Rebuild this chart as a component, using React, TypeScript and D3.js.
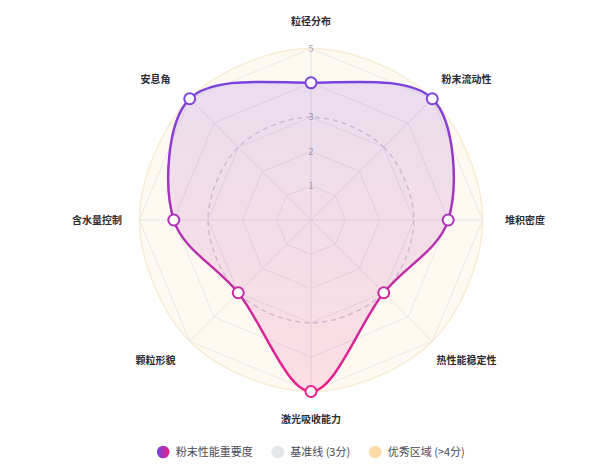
import React, { useMemo } from "react";
import * as d3 from "d3";

const axes = ["粒径分布", "粉末流动性", "堆积密度", "热性能稳定性", "激光吸收能力", "颗粒形貌", "含水量控制", "安息角"];
const importance = [4, 5, 4, 3, 5, 3, 4, 5];
const baseline = [3, 3, 3, 3, 3, 3, 3, 3];
const excellent = [5, 5, 5, 5, 5, 5, 5, 5];
const levels = [1, 2, 3, 4, 5];
const tickLabels = ["1", "2", "3", "4", "5"];
const legendItems = ["粉末性能重要度", "基准线 (3分)", "优秀区域 (>4分)"];

const width = 600;
const height = 474;
const cx = 311;
const cy = 220;
const radius = 171.5;
const font = "'Noto Sans CJK SC', 'Noto Sans', sans-serif";

export default function App() {
  const r = useMemo(() => d3.scaleLinear().domain([0, 5]).range([0, radius]), []);
  const angle = (i: number) => (i * 2 * Math.PI) / axes.length;

  const radial = (curve: any) =>
    d3
      .lineRadial<number>()
      .angle((_, i) => angle(i))
      .radius((d) => r(d))
      .curve(curve);

  const gridPath = radial(d3.curveLinearClosed);
  const smoothPath = radial(d3.curveCatmullRomClosed.alpha(0.5));

  // legend layout from measured text widths
  const legendLayout = useMemo(() => {
    const ctx = document.createElement("canvas").getContext("2d");
    if (ctx) ctx.font = `11px ${font}`;
    const widths = legendItems.map((t) => (ctx ? ctx.measureText(t).width : t.length * 11));
    const gap = 25;
    const total = widths.reduce((s, w) => s + 12.5 + w + gap, 0) - gap + 6;
    let x = cx - total / 2 + 6;
    return widths.map((w) => {
      const item = { x };
      x += 12.5 + w + gap;
      return item;
    });
  }, []);

  const legendFill = ["url(#legendGrad)", "#e5e6ea", "#fbdca8"];

  return (
    <svg width={width} height={height} style={{ position: "absolute", top: 0, left: 0, fontFamily: font }}>
      <defs>
        <linearGradient id="strokeGrad" gradientUnits="userSpaceOnUse" x1={0} y1={-radius} x2={0} y2={radius}>
          <stop offset="0%" stopColor="#6c47e6" />
          <stop offset="100%" stopColor="#ec1f88" />
        </linearGradient>
        <linearGradient id="fillGrad" gradientUnits="userSpaceOnUse" x1={0} y1={-radius} x2={0} y2={radius}>
          <stop offset="0%" stopColor="#7a55e0" stopOpacity={0.17} />
          <stop offset="100%" stopColor="#f03c90" stopOpacity={0.15} />
        </linearGradient>
        <linearGradient id="legendGrad" x1="0" y1="0" x2="1" y2="0">
          <stop offset="0%" stopColor="#6c47e6" />
          <stop offset="100%" stopColor="#ec1f88" />
        </linearGradient>
      </defs>
      <rect width={width} height={height} fill="#fff" />
      <g transform={`translate(${cx},${cy})`}>
        {/* excellent zone */}
        <path d={smoothPath(excellent) || ""} fill="#fefaf2" stroke="#f8ecd4" strokeWidth={1.5} />
        {/* grid */}
        {levels.map((l) => (
          <path key={l} d={gridPath(axes.map(() => l)) || ""} fill="none" stroke="#ebe8e6" strokeWidth={1} />
        ))}
        {axes.map((a, i) => (
          <line
            key={a}
            x1={0}
            y1={0}
            x2={Math.sin(angle(i)) * r(5)}
            y2={-Math.cos(angle(i)) * r(5)}
            stroke="#e6e3e3"
            strokeWidth={1}
          />
        ))}
        {/* baseline */}
        <path d={smoothPath(baseline) || ""} fill="none" stroke="#d3cfd6" strokeWidth={1.5} strokeDasharray="5,4" />
        {/* ticks */}
        {levels.map((l, i) => (
          <text key={l} x={0} y={-r(l)} dy="0.35em" textAnchor="middle" fontSize={9} fill="#a09aa8">
            {tickLabels[i]}
          </text>
        ))}
        {/* series */}
        <path d={smoothPath(importance) || ""} fill="url(#fillGrad)" stroke="url(#strokeGrad)" strokeWidth={2.5} />
        {importance.map((v, i) => (
          <circle
            key={i}
            cx={Math.sin(angle(i)) * r(v)}
            cy={-Math.cos(angle(i)) * r(v)}
            r={5.5}
            fill="#fff"
            stroke="url(#strokeGrad)"
            strokeWidth={2}
          />
        ))}
        {/* axis labels */}
        {axes.map((a, i) => {
          const s = Math.sin(angle(i));
          const c = Math.cos(angle(i));
          const shift = Math.abs(s) < 0.01 ? 0 : Math.sign(s) * 14;
          return (
            <text
              key={a}
              x={s * 200 + shift}
              y={-c * 199}
              dy="0.35em"
              textAnchor="middle"
              fontSize={10}
              fontWeight="bold"
              fill="#2b2b33"
            >
              {a}
            </text>
          );
        })}
      </g>
      {/* legend */}
      <g transform="translate(0,452)">
        {legendItems.map((t, i) => (
          <g key={t} transform={`translate(${legendLayout[i].x},0)`}>
            <circle r={6.3} fill={legendFill[i]} />
            <text x={12.5} dy="0.35em" fontSize={11} fill="#4a4a55">
              {t}
            </text>
          </g>
        ))}
      </g>
    </svg>
  );
}
